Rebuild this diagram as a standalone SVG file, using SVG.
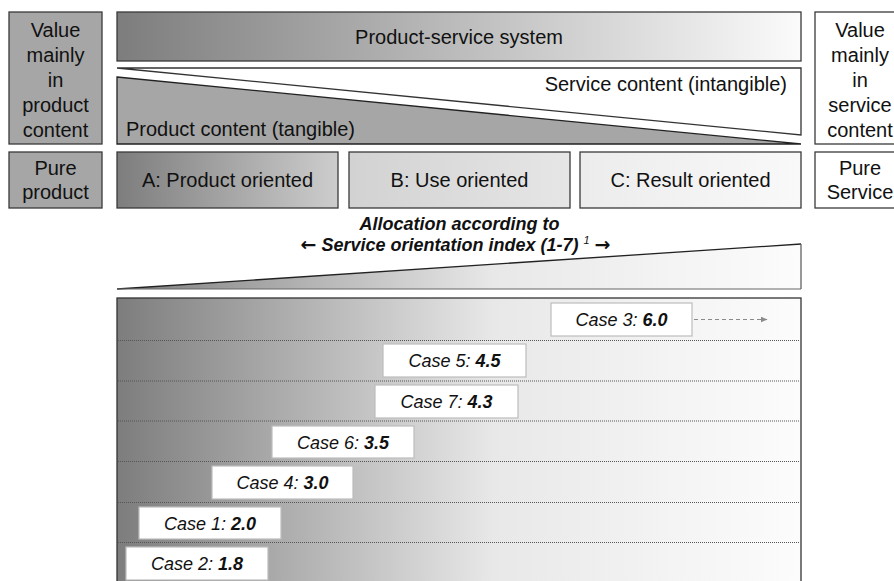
<svg xmlns="http://www.w3.org/2000/svg" width="894" height="581" viewBox="0 0 894 581">
<style>
text{font-family:"Liberation Sans",Arial,sans-serif;fill:#111;}
.t{font-size:20px;text-anchor:middle;}
.c{font-size:18px;font-style:italic;text-anchor:middle;}
.c tspan.b{font-weight:bold;}
.box{stroke:#3a3a3a;stroke-width:1.3;}
.case{fill:#fff;stroke:#bdbdbd;stroke-width:1.2;}
.dot{stroke:#555;stroke-width:1;stroke-dasharray:1,1;}
.arr{font-family:"DejaVu Sans",sans-serif;font-style:normal;font-weight:bold;font-size:19px;}
</style>
<defs>
<linearGradient id="gTop" x1="0" y1="0" x2="1" y2="0"><stop offset="0" stop-color="#7d7d7d"/><stop offset="1" stop-color="#fbfbfb"/></linearGradient>
<linearGradient id="gA" x1="0" y1="0" x2="1" y2="0"><stop offset="0" stop-color="#7d7d7d"/><stop offset="1" stop-color="#cdcdcd"/></linearGradient>
<linearGradient id="gB" x1="0" y1="0" x2="1" y2="0"><stop offset="0" stop-color="#d2d2d2"/><stop offset="1" stop-color="#e6e6e6"/></linearGradient>
<linearGradient id="gC" x1="0" y1="0" x2="1" y2="0"><stop offset="0" stop-color="#ececec"/><stop offset="1" stop-color="#f9f9f9"/></linearGradient>
<linearGradient id="gLow" gradientUnits="userSpaceOnUse" x1="117" y1="0" x2="801" y2="0"><stop offset="0" stop-color="#7d7d7d"/><stop offset="0.55" stop-color="#e8e8e8"/><stop offset="1" stop-color="#fcfcfc"/></linearGradient>
<marker id="ah" viewBox="0 0 10 10" refX="9" refY="5" markerWidth="7" markerHeight="7" orient="auto"><path d="M0,1 L10,5 L0,9 z" fill="#8a8a8a"/></marker>
</defs>

<g id="left-value">
<rect class="box" x="9" y="12" width="93" height="132" fill="#a6a6a6"/>
<text class="t" x="55.5" y="37">Value</text>
<text class="t" x="55.5" y="62">mainly</text>
<text class="t" x="55.5" y="87">in</text>
<text class="t" x="55.5" y="112">product</text>
<text class="t" x="55.5" y="137">content</text>
</g>
<g id="left-pure">
<rect class="box" x="9" y="152" width="93" height="56" fill="#a6a6a6"/>
<text class="t" x="55.5" y="175">Pure</text>
<text class="t" x="55.5" y="199">product</text>
</g>

<g id="pss">
<rect class="box" x="117" y="12" width="684" height="49" fill="url(#gTop)"/>
<text class="t" x="459" y="44">Product-service system</text>
</g>
<g id="service-content">
<polygon points="117,68 801,68 801,135" fill="#fff" stroke="#333" stroke-width="1.3"/>
<text x="787" y="91" style="font-size:20px;text-anchor:end">Service content (intangible)</text>
</g>
<g id="product-content">
<polygon points="117,77 801,144 117,144" fill="#a6a6a6" stroke="#222" stroke-width="1.3"/>
<text x="126" y="136" style="font-size:20px">Product content (tangible)</text>
</g>

<g id="right-value">
<rect class="box" x="815" y="12" width="90" height="132" fill="#fff"/>
<text class="t" x="860" y="37">Value</text>
<text class="t" x="860" y="62">mainly</text>
<text class="t" x="860" y="87">in</text>
<text class="t" x="860" y="112">service</text>
<text class="t" x="860" y="137">content</text>
</g>
<g id="right-pure">
<rect class="box" x="815" y="152" width="90" height="56" fill="#fff"/>
<text class="t" x="860" y="175">Pure</text>
<text class="t" x="860" y="199">Service</text>
</g>

<g id="type-a">
<rect class="box" x="117" y="152" width="221" height="56" fill="url(#gA)"/>
<text class="t" x="227.5" y="187">A: Product oriented</text>
</g>
<g id="type-b">
<rect class="box" x="349" y="152" width="221" height="56" fill="url(#gB)"/>
<text class="t" x="459.5" y="187">B: Use oriented</text>
</g>
<g id="type-c">
<rect class="box" x="580" y="152" width="221" height="56" fill="url(#gC)"/>
<text class="t" x="690.5" y="187">C: Result oriented</text>
</g>

<g id="allocation-title">
<text x="459.5" y="230" style="font-size:18px;font-weight:bold;font-style:italic;text-anchor:middle">Allocation according to</text>
<text x="455.5" y="251" style="font-size:18px;font-weight:bold;font-style:italic;text-anchor:middle"><tspan class="arr">←</tspan> Service orientation index (1-7) <tspan style="font-size:11px;font-weight:normal" dy="-7">1</tspan><tspan dy="7"> </tspan><tspan class="arr">→</tspan></text>
</g>

<g id="wedge">
<polygon points="117,289 801,244 801,289" fill="url(#gLow)" stroke="none"/>
<line x1="117" y1="289" x2="801" y2="244" stroke="#222" stroke-width="1.3"/>
<line x1="801" y1="244" x2="801" y2="289" stroke="#555" stroke-width="1.2"/>
<line x1="117" y1="289" x2="801" y2="289" stroke="#666" stroke-width="1"/>
</g>

<g id="index-chart">
<rect x="117" y="298" width="684" height="300" fill="url(#gLow)" stroke="#333" stroke-width="1.3"/>
<line class="dot" x1="118" y1="340.5" x2="800" y2="340.5"/>
<line class="dot" x1="118" y1="381" x2="800" y2="381"/>
<line class="dot" x1="118" y1="421" x2="800" y2="421"/>
<line class="dot" x1="118" y1="461.5" x2="800" y2="461.5"/>
<line class="dot" x1="118" y1="502.5" x2="800" y2="502.5"/>
<line class="dot" x1="118" y1="542.5" x2="800" y2="542.5"/>
</g>

<g id="case3"><rect class="case" x="551" y="303" width="141" height="33"/><text class="c" x="621.5" y="326">Case 3: <tspan class="b">6.0</tspan></text></g>
<g id="case5"><rect class="case" x="383" y="344" width="143" height="33"/><text class="c" x="454.5" y="367">Case 5: <tspan class="b">4.5</tspan></text></g>
<g id="case7"><rect class="case" x="375" y="385" width="143" height="33"/><text class="c" x="446.5" y="408">Case 7: <tspan class="b">4.3</tspan></text></g>
<g id="case6"><rect class="case" x="272" y="426" width="142" height="32"/><text class="c" x="343" y="449">Case 6: <tspan class="b">3.5</tspan></text></g>
<g id="case4"><rect class="case" x="212" y="466" width="141" height="33"/><text class="c" x="282.5" y="489">Case 4: <tspan class="b">3.0</tspan></text></g>
<g id="case1"><rect class="case" x="139" y="507" width="142" height="32"/><text class="c" x="210" y="530">Case 1: <tspan class="b">2.0</tspan></text></g>
<g id="case2"><rect class="case" x="126" y="547" width="142" height="33"/><text class="c" x="197" y="570">Case 2: <tspan class="b">1.8</tspan></text></g>

<g id="connectors">
<line x1="694" y1="319.5" x2="767" y2="319.5" stroke="#8a8a8a" stroke-width="1" stroke-dasharray="4,3" marker-end="url(#ah)"/>
</g>
</svg>
